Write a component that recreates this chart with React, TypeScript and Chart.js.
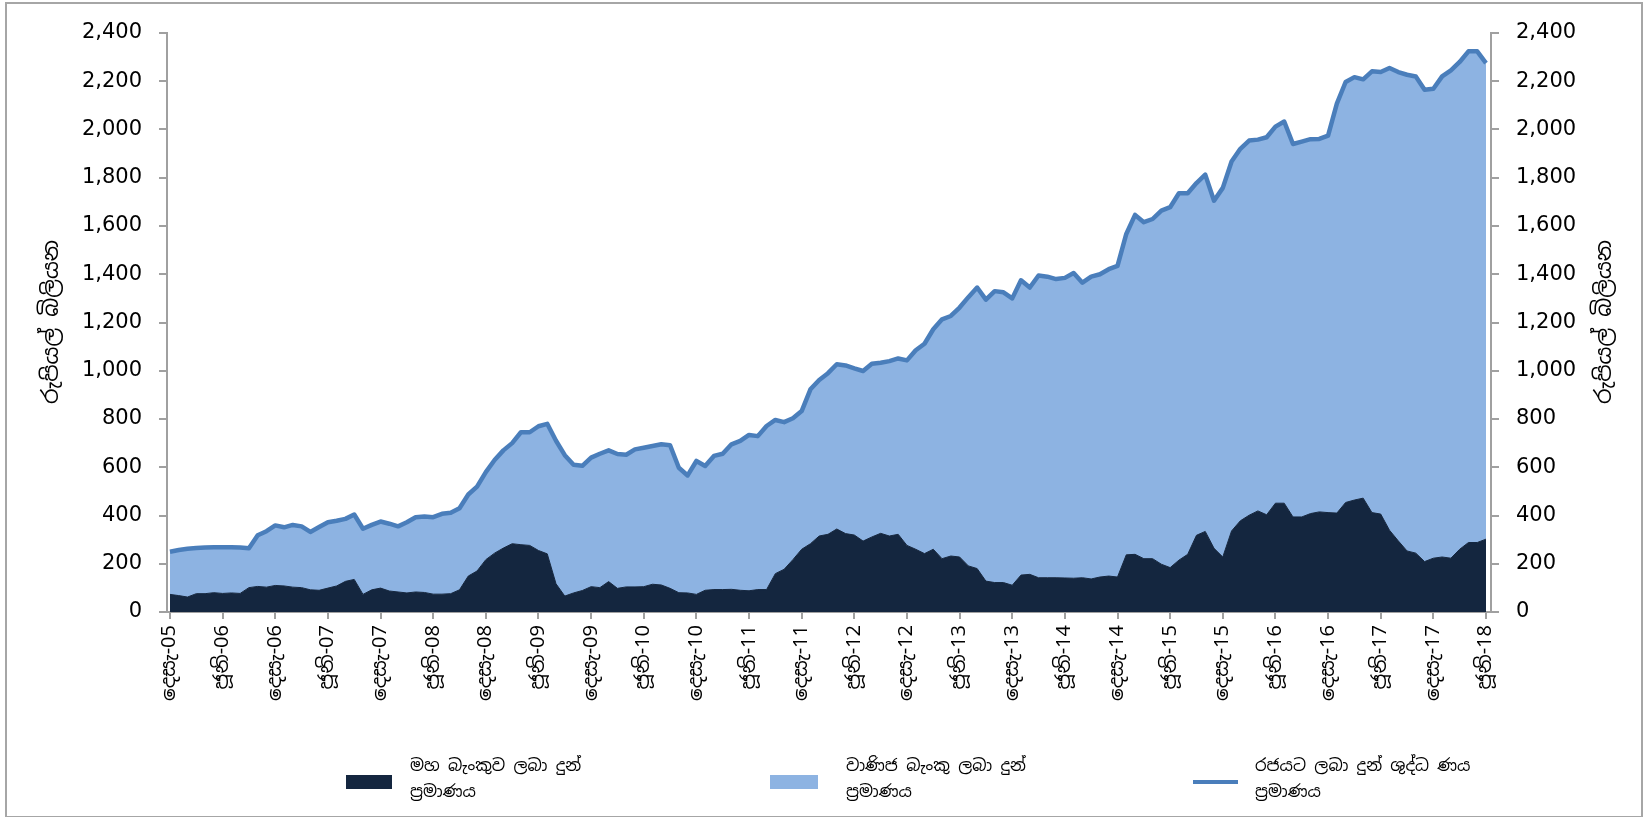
import React, { useEffect, useRef } from 'react';
import { Chart, registerables } from 'chart.js';

Chart.register(...registerables);

// Tick labels (every 6 months, Dec-05 .. Jun-18)
const tickLabels = [
  'දෙසැ-05', 'ජූනි-06', 'දෙසැ-06', 'ජූනි-07', 'දෙසැ-07', 'ජූනි-08', 'දෙසැ-08', 'ජූනි-09',
  'දෙසැ-09', 'ජූනි-10', 'දෙසැ-10', 'ජූනි-11', 'දෙසැ-11', 'ජූනි-12', 'දෙසැ-12', 'ජූනි-13',
  'දෙසැ-13', 'ජූනි-14', 'දෙසැ-14', 'ජූනි-15', 'දෙසැ-15', 'ජූනි-16', 'දෙසැ-16', 'ජූනි-17',
  'දෙසැ-17', 'ජූනි-18',
];

// Monthly values, Dec-2005 .. Jun-2018 (Rs. billion)
const centralBank = [
  73, 68, 62, 76, 76, 80, 77, 79, 77, 101,
  106, 103, 110, 108, 103, 101, 92, 90, 99, 108,
  127, 135, 73, 92, 99, 87, 83, 79, 83, 81,
  74, 74, 76, 92, 149, 170, 217, 244, 265, 283,
  279, 276, 255, 241, 117, 66, 79, 89, 105, 101,
  126, 98, 104, 104, 105, 115, 112, 98, 80, 79,
  73, 90, 93, 93, 94, 90, 88, 93, 93, 159,
  177, 217, 260, 283, 315, 322, 344, 325, 319, 294,
  311, 326, 315, 322, 276, 260, 242, 260, 221, 232,
  228, 191, 180, 128, 122, 122, 111, 153, 156, 142,
  142, 142, 141, 140, 142, 137, 145, 149, 145, 237,
  239, 221, 221, 198, 184, 215, 239, 318, 334, 264,
  228, 336, 378, 401, 419, 403, 451, 451, 394, 394,
  408, 415, 412, 410, 454, 464, 472, 412, 406, 339,
  295, 253, 244, 209, 223, 228, 223, 260, 288, 288,
  302,
];

const commercialBanks = [
  177, 189, 200, 189, 191, 188, 191, 189, 190, 163,
  212, 232, 249, 243, 258, 254, 240, 262, 273, 270,
  259, 269, 272, 269, 276, 279, 272, 293, 310, 315,
  319, 333, 335, 338, 338, 350, 363, 386, 405, 417,
  466, 469, 515, 539, 593, 584, 531, 517, 535, 555,
  544, 557, 548, 570, 576, 573, 583, 593, 518, 487,
  553, 515, 554, 563, 601, 619, 646, 636, 678, 637,
  610, 586, 573, 640, 647, 668, 683, 697, 691, 705,
  718, 707, 725, 729, 767, 825, 870, 912, 992, 995,
  1034, 1114, 1165, 1167, 1208, 1203, 1189, 1222, 1189, 1253,
  1248, 1238, 1244, 1265, 1223, 1253, 1255, 1272, 1290, 1330,
  1407, 1395, 1408, 1466, 1494, 1521, 1497, 1460, 1479, 1441,
  1530, 1531, 1542, 1553, 1539, 1565, 1561, 1582, 1546, 1556,
  1552, 1546, 1563, 1697, 1743, 1753, 1736, 1829, 1832, 1916,
  1943, 1974, 1976, 1956, 1946, 1992, 2022, 2020, 2036, 2036,
  1973,
];

const netCredit = [
  250, 257, 262, 265, 267, 268, 268, 268, 267, 264,
  318, 335, 359, 351, 361, 355, 332, 352, 372, 378,
  386, 404, 345, 361, 375, 366, 355, 372, 393, 396,
  393, 407, 411, 430, 487, 520, 580, 630, 670, 700,
  745, 745, 770, 780, 710, 650, 610, 606, 640, 656,
  670, 655, 652, 674, 681, 688, 695, 691, 598, 566,
  626, 605, 647, 656, 695, 709, 734, 729, 771, 796,
  787, 803, 833, 923, 962, 990, 1027, 1022, 1010, 999,
  1029, 1033, 1040, 1051, 1043, 1085, 1112, 1172, 1213, 1227,
  1262, 1305, 1345, 1295, 1330, 1325, 1300, 1375, 1345, 1395,
  1390, 1380, 1385, 1405, 1365, 1390, 1400, 1421, 1435, 1567,
  1646, 1616, 1629, 1664, 1678, 1736, 1736, 1778, 1813, 1705,
  1758, 1867, 1920, 1954, 1958, 1968, 2012, 2033, 1940, 1950,
  1960, 1961, 1975, 2107, 2197, 2217, 2208, 2241, 2238, 2255,
  2238, 2227, 2220, 2165, 2169, 2220, 2245, 2280, 2324, 2324,
  2275,
];

const seriesNames = [
  ['මහ බැංකුව ලබා දුන්', 'ප්‍රමාණය'],
  ['වාණිජ බැංකු ලබා දුන්', 'ප්‍රමාණය'],
  ['රජයට ලබා දුන් ශුද්ධ ණය', 'ප්‍රමාණය'],
];
const axisTitle = 'රුපියල් බිලියන';

const DARK = '#14263f';
const LIGHT = '#8db3e2';
const LINE = '#4a7ebb';
const AXIS = '#a0a0a0';
const NUM_FONT = { family: '"DejaVu Sans", sans-serif', size: 21 };
const SIN_FONT = '"Noto Sans Sinhala", "Iskoola Pota", serif';

const toXY = (arr: number[]) => arr.map((v, i) => ({ x: i, y: v }));

export default function App() {
  const ref = useRef<HTMLCanvasElement>(null);

  useEffect(() => {
    if (!ref.current) return;
    const yTicks = {
      stepSize: 200,
      color: '#000',
      font: NUM_FONT,
      callback: (v: any) => Number(v).toLocaleString('en-US'),
    };
    const yGrid = { drawOnChartArea: false, drawTicks: true, tickLength: 8, color: AXIS, lineWidth: 2 };
    const chart = new Chart(ref.current, {
      type: 'line',
      data: {
        datasets: [
          {
            label: seriesNames[0].join(' '),
            data: toXY(centralBank),
            backgroundColor: DARK,
            borderColor: DARK,
            borderWidth: 1,
            fill: 'origin',
            pointRadius: 0,
            tension: 0,
            yAxisID: 'y',
            order: 1,
          },
          {
            label: seriesNames[1].join(' '),
            data: toXY(commercialBanks),
            backgroundColor: LIGHT,
            borderColor: LIGHT,
            borderWidth: 1,
            fill: '-1',
            pointRadius: 0,
            tension: 0,
            yAxisID: 'y',
            order: 1,
          },
          {
            label: seriesNames[2].join(' '),
            data: toXY(netCredit),
            borderColor: LINE,
            borderWidth: 4.5,
            borderJoinStyle: 'round',
            fill: false,
            pointRadius: 0,
            tension: 0,
            yAxisID: 'y1',
            order: 0,
          },
        ],
      },
      options: {
        responsive: false,
        animation: false,
        events: [],
        layout: { padding: { top: 33, left: 0, right: 0, bottom: 0 } },
        plugins: { legend: { display: false }, tooltip: { enabled: false }, title: { display: false } },
        scales: {
          x: {
            type: 'linear',
            min: -0.34,
            max: 150.57,
            afterBuildTicks: (s: any) => {
              s.ticks = tickLabels.map((_, k) => ({ value: k * 6 }));
            },
            afterFit: (s: any) => {
              s.height = 205;
            },
            ticks: {
              autoSkip: false,
              maxRotation: 90,
              minRotation: 90,
              padding: 6,
              color: '#000',
              font: { family: SIN_FONT, size: 20 },
              callback: (v: any) => tickLabels[Math.round(Number(v) / 6)] ?? '',
            },
            grid: { drawOnChartArea: false, drawTicks: true, tickLength: 7, color: AXIS, lineWidth: 2 },
            border: { display: true, color: AXIS, width: 2 },
          },
          y: {
            position: 'left',
            stacked: true,
            min: 0,
            max: 2400,
            afterFit: (s: any) => {
              s.width = 167;
            },
            ticks: { ...yTicks, padding: 17 },
            grid: yGrid,
            border: { display: true, color: AXIS, width: 2 },
          },
          y1: {
            position: 'right',
            stacked: false,
            min: 0,
            max: 2400,
            afterFit: (s: any) => {
              s.width = 155;
            },
            ticks: { ...yTicks, padding: 17 },
            grid: yGrid,
            border: { display: true, color: AXIS, width: 2 },
          },
        },
      },
    } as any);
    return () => chart.destroy();
  }, []);

  const titleStyle = (cx: number): React.CSSProperties => ({
    position: 'absolute',
    left: cx - 120,
    top: 322 - 15,
    width: 240,
    height: 30,
    lineHeight: '30px',
    textAlign: 'center',
    transform: 'rotate(-90deg)',
    fontFamily: SIN_FONT,
    fontSize: 22,
    color: '#000',
    whiteSpace: 'nowrap',
  });

  const legendText = (left: number, lines: string[]) => (
    <div
      style={{
        position: 'absolute',
        left,
        top: 752,
        fontFamily: SIN_FONT,
        fontSize: 16.5,
        lineHeight: '26px',
        color: '#000',
        whiteSpace: 'nowrap',
      }}
    >
      {lines.map((l, i) => (
        <div key={i}>{l}</div>
      ))}
    </div>
  );

  return (
    <div style={{ position: 'absolute', left: 0, top: 0, width: 1646, height: 817, background: '#fff', overflow: 'hidden' }}>
      <canvas ref={ref} width={1646} height={817} style={{ position: 'absolute', left: 0, top: 0, width: 1646, height: 817 }} />
      <div
        style={{
          position: 'absolute',
          left: 5,
          top: 2,
          width: 1634,
          height: 812,
          border: '2px solid #a6a6a6',
          pointerEvents: 'none',
        }}
      />
      <div style={titleStyle(50)}>{axisTitle}</div>
      <div style={titleStyle(1603)}>{axisTitle}</div>
      <div style={{ position: 'absolute', left: 346, top: 775, width: 46, height: 14, background: DARK }} />
      {legendText(410, seriesNames[0])}
      <div style={{ position: 'absolute', left: 770, top: 775, width: 48, height: 14, background: LIGHT }} />
      {legendText(846, seriesNames[1])}
      <div style={{ position: 'absolute', left: 1193, top: 780, width: 45, height: 4, background: LINE }} />
      {legendText(1255, seriesNames[2])}
    </div>
  );
}
